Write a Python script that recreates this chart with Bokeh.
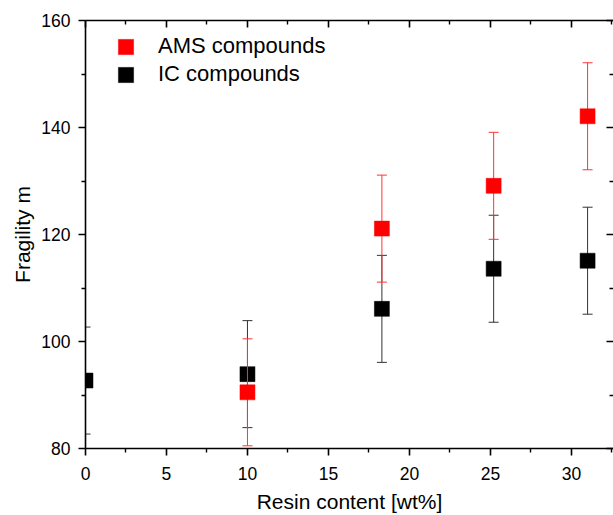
from bokeh.plotting import figure
from bokeh.models import (ColumnDataSource, FixedTicker, LinearAxis, Legend,
                          LegendItem, Range1d)
from bokeh.embed import file_html
from bokeh.resources import INLINE

# ---- data ----
ams_x = [10.0, 18.3, 25.2, 31.0]
ams_y = [90.5, 121.1, 129.1, 142.1]
ams_err = [10.0, 10.0, 10.0, 10.0]

ic_x = [0.0, 10.0, 18.3, 25.2, 31.0]
ic_y = [92.7, 93.9, 106.1, 113.6, 115.1]
ic_err = [10.0, 10.0, 10.0, 10.0, 10.0]

x_ticks = [0, 5, 10, 15, 20, 25, 30]
x_minor_ticks = [2.5, 7.5, 12.5, 17.5, 22.5, 27.5, 32.5]
y_ticks = [80, 100, 120, 140, 160]
y_minor_ticks = [90, 110, 130, 150]

x_label = "Resin content [wt%]"
y_label = "Fragility m"
ams_name = "AMS compounds"
ic_name = "IC compounds"

FONT = "Liberation Sans"
RED = "#ff0000"
BLACK = "#000000"

X_START, X_END = 0, 32.6
Y_START, Y_END = 80, 160
W, H = 613, 515


def make_source(xs, ys, errs):
    return ColumnDataSource(dict(
        x=xs, y=ys,
        lo=[v - e for v, e in zip(ys, errs)],
        hi=[v + e for v, e in zip(ys, errs)],
    ))


ams_src = make_source(ams_x, ams_y, ams_err)
ic_src = make_source(ic_x, ic_y, ic_err)

p = figure(width=W, height=H, output_backend="svg", toolbar_location=None,
           x_range=Range1d(X_START, X_END), y_range=Range1d(Y_START, Y_END),
           min_border_left=85, min_border_top=20, min_border_bottom=66,
           min_border_right=0)
p.xgrid.visible = False
p.ygrid.visible = False
p.outline_line_color = None
p.background_fill_color = "white"
p.border_fill_color = "white"

xt = FixedTicker(ticks=x_ticks, minor_ticks=x_minor_ticks)
yt = FixedTicker(ticks=y_ticks, minor_ticks=y_minor_ticks)

# bottom axis
xa = p.xaxis[0]
xa.ticker = xt
xa.axis_label = x_label
xa.axis_label_text_font = FONT
xa.axis_label_text_font_size = "21px"
xa.axis_label_text_font_style = "normal"
xa.axis_label_text_color = "black"
xa.axis_label_standoff = 7
xa.major_label_text_font = FONT
xa.major_label_text_font_size = "17.5px"
xa.major_label_text_color = "black"
xa.major_label_standoff = 11
xa.axis_line_width = 1.6
xa.major_tick_line_width = 1.6
xa.minor_tick_line_width = 1.4
xa.major_tick_out = 7
xa.major_tick_in = 0
xa.minor_tick_out = 4
xa.minor_tick_in = 0

# left axis
ya = p.yaxis[0]
ya.ticker = yt
ya.axis_label = y_label
ya.axis_label_text_font = FONT
ya.axis_label_text_font_size = "21px"
ya.axis_label_text_font_style = "normal"
ya.axis_label_text_color = "black"
ya.axis_label_standoff = 4
ya.major_label_text_font = FONT
ya.major_label_text_font_size = "17.5px"
ya.major_label_text_color = "black"
ya.major_label_standoff = 8
ya.axis_line_width = 1.6
ya.major_tick_line_width = 1.6
ya.minor_tick_line_width = 1.4
ya.major_tick_out = 7
ya.major_tick_in = 0
ya.minor_tick_out = 4
ya.minor_tick_in = 0

# top and right axes (ticks pointing inward, no labels)
top = LinearAxis(ticker=xt, major_label_text_font_size="0px", major_label_standoff=0,
                 major_tick_out=0, major_tick_in=7, minor_tick_out=0, minor_tick_in=4,
                 axis_line_width=1.6, major_tick_line_width=1.6, minor_tick_line_width=1.4)
top.major_label_text_alpha = 0
p.add_layout(top, "above")
right = LinearAxis(ticker=yt, major_label_text_font_size="0px", major_label_standoff=0,
                   major_tick_out=0, major_tick_in=7, minor_tick_out=0, minor_tick_in=4,
                   axis_line_alpha=0, major_tick_line_width=1.6, minor_tick_line_width=1.4)
right.major_label_text_alpha = 0
p.add_layout(right, "right")

# error bars + markers
p.segment(x0="x", y0="lo", x1="x", y1="hi", source=ic_src, line_color="#333333", line_width=1)
p.scatter(x="x", y="lo", source=ic_src, marker="dash", size=10, line_color="#333333", line_width=1)
p.scatter(x="x", y="hi", source=ic_src, marker="dash", size=10, line_color="#333333", line_width=1)
r_ic = p.rect(x="x", y="y", width=15, height=15, width_units="screen", height_units="screen",
              source=ic_src, fill_color=BLACK, line_color=BLACK, line_width=0.5)

p.segment(x0="x", y0="lo", x1="x", y1="hi", source=ams_src, line_color="#ff3333", line_width=1)
p.scatter(x="x", y="lo", source=ams_src, marker="dash", size=10, line_color="#ff3333", line_width=1)
p.scatter(x="x", y="hi", source=ams_src, marker="dash", size=10, line_color="#ff3333", line_width=1)
r_ams = p.rect(x="x", y="y", width=15, height=15, width_units="screen", height_units="screen",
               source=ams_src, fill_color=RED, line_color=RED, line_width=0.5)

legend = Legend(items=[LegendItem(label=ams_name, renderers=[r_ams]),
                       LegendItem(label=ic_name, renderers=[r_ic])],
                location=(31, 361), glyph_width=19, glyph_height=19,
                label_standoff=23, spacing=2, padding=0, margin=0,
                label_text_font=FONT, label_text_font_size="22px",
                label_text_color="black",
                border_line_alpha=0, background_fill_alpha=0)
p.add_layout(legend)

open("out.html", "w").write(file_html(p, INLINE))
